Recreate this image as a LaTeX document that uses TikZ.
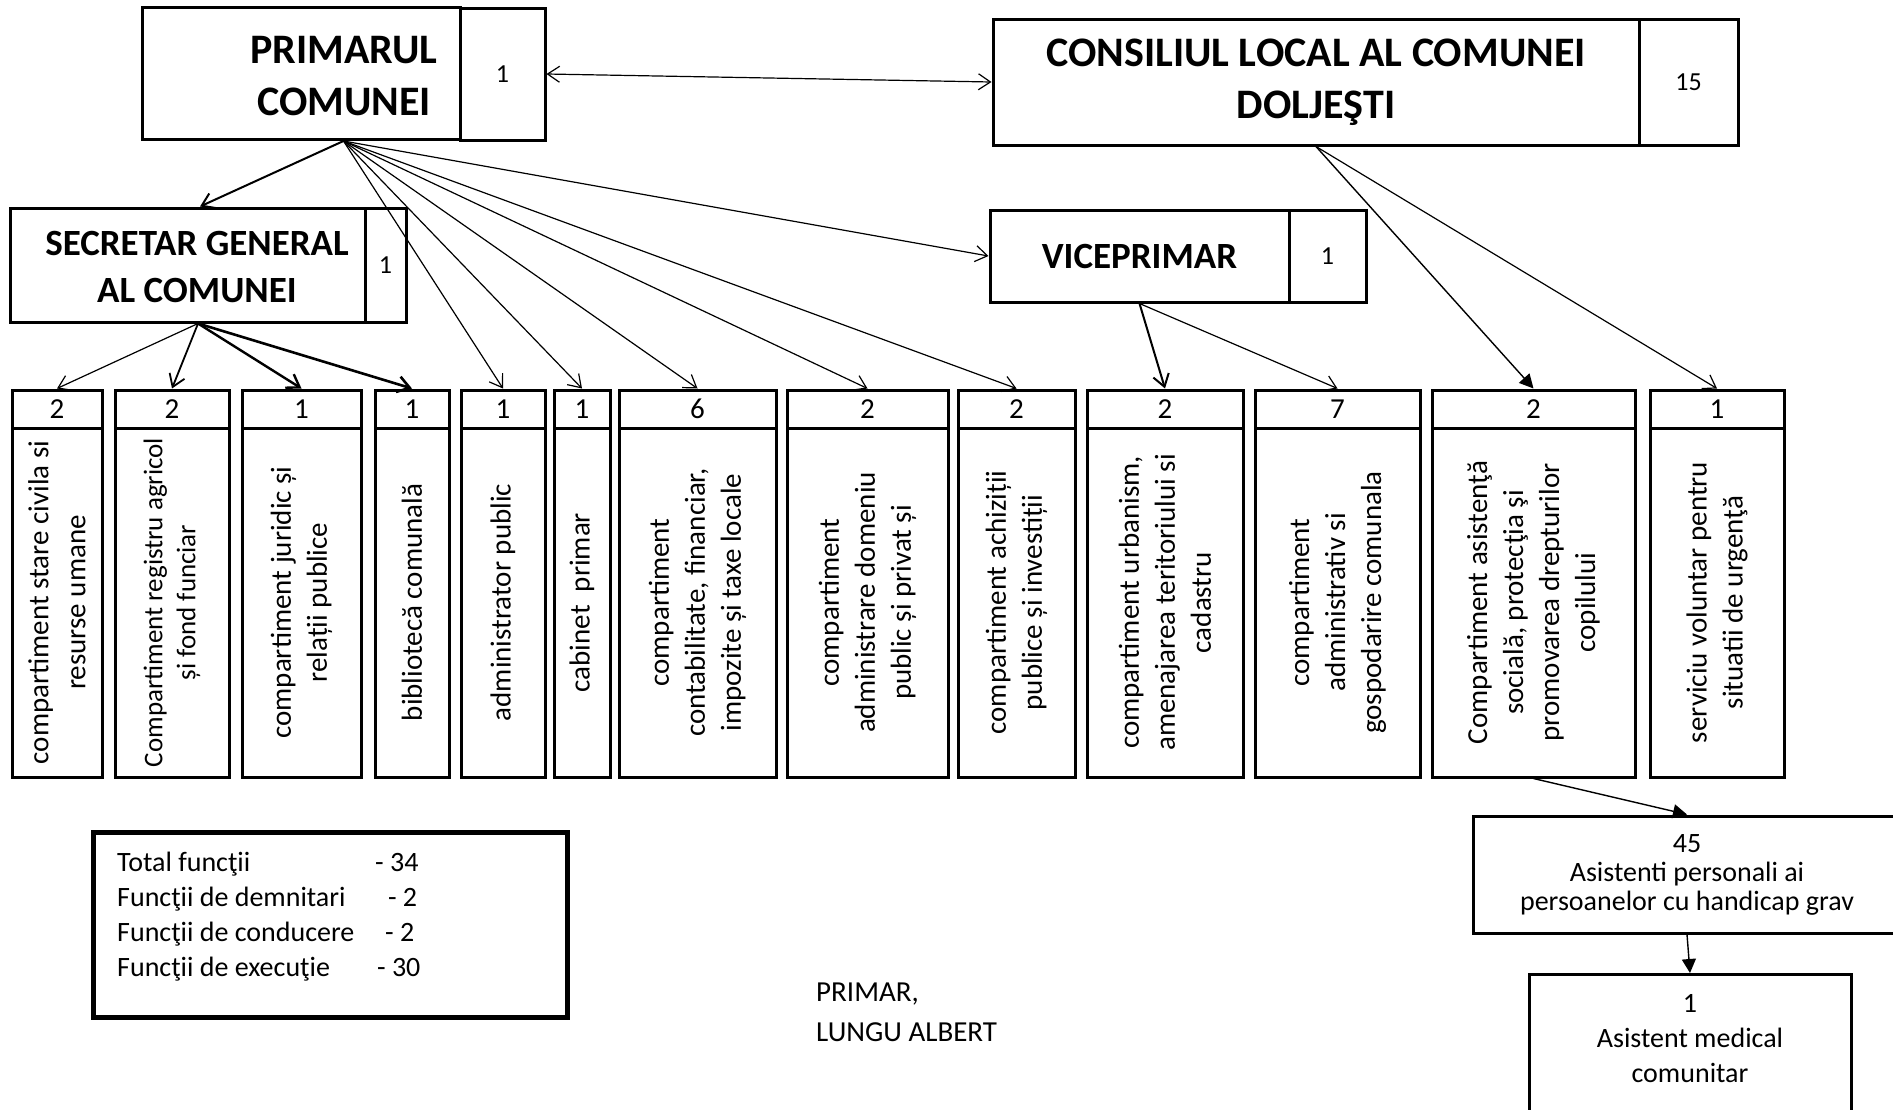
\documentclass[tikz,border=0pt]{standalone}
\usepackage{fontspec}
\setmainfont{Carlito}
\usetikzlibrary{arrows.meta,calc}
\newcommand{\fsz}[2]{\fontsize{#1pt}{#2pt}\selectfont}
\begin{document}
\begin{tikzpicture}[x=1pt,y=-1pt,
  box/.style={draw, line width=3pt, inner sep=0pt, rectangle},
  num/.style={font=\fsz{26}{30}},
  title/.style={font=\bfseries\fsz{42}{52}, align=center, inner sep=0pt},
  titletwo/.style={font=\bfseries\fsz{37}{47}, align=center, inner sep=0pt},
  conn/.style={line width=1.2pt, -{Straight Barb[length=12pt,width=16pt]}},
  fconn/.style={line width=1.4pt, -{Triangle[length=14pt,width=14pt]}}]
\useasboundingbox (0,0) rectangle (1893,1109);
% top boxes
\node[box, minimum width=318pt, minimum height=132pt] (primm) at (301,73) {};
\node[box, num, minimum width=85pt, minimum height=132pt] (primc) at (502.5,74) {1};
\node[title] (primt) at (344,76) {PRIMARUL\\COMUNEI};
\node[box, title, minimum width=646pt, minimum height=126pt] (consm) at (1316,82) {CONSILIUL LOCAL AL COMUNEI\\DOLJEŞTI};
\node[box, num, minimum width=99pt, minimum height=126pt] (consc) at (1688.5,82) {15};
\node[box, minimum width=355pt, minimum height=114pt] (secm) at (187.5,265) {};
\node[box, num, minimum width=41pt, minimum height=114pt] (secc) at (385.5,265) {1};
\node[titletwo] (sect) at (197,266.5) {SECRETAR GENERAL\\AL COMUNEI};
\node[box, titletwo, minimum width=299pt, minimum height=92pt] (vpm) at (1139.5,256) {VICEPRIMAR};
\node[box, num, minimum width=77pt, minimum height=92pt] (vpc) at (1327.5,256) {1};
% bottom row
\foreach \k/\xl/\xr/\nn/\fs/\bs/\txt in {
 1/12/102/2/29/37/{compartiment stare civila si\\resurse umane},
 2/115/229/2/27/33/{Compartiment registru agricol\\și fond funciar},
 3/242/361/1/29/36/{compartiment juridic și\\relații publice},
 4/375/449/1/29/36/{bibliotecă comunală},
 5/461/545/1/29/36/{administrator public},
 6/554/610/1/29/36/{cabinet\ \ primar},
 7/619/776/6/29/36/{compartiment\\contabilitate, financiar,\\impozite și taxe locale},
 8/787/948/2/29/36/{compartiment\\administrare domeniu\\public și privat și},
 9/958/1075/2/29/36/{compartiment achiziții\\publice și investiții},
 10/1087/1243/2/29/36/{compartiment urbanism,\\amenajarea teritoriului si\\cadastru},
 11/1255/1420/7/29/36/{compartiment\\administrativ si\\gospodarire comunala},
 12/1432/1635/2/29/36/{Compartiment asistenţă\\socială, protecţia şi\\promovarea drepturilor\\copilului},
 13/1650/1784/1/29/36/{serviciu voluntar pentru\\situatii de urgenţă}}
{
  \pgfmathsetmacro{\ww}{\xr-\xl}
  \pgfmathsetmacro{\cx}{(\xr+\xl)/2}
  \node[box, minimum width=\ww pt, minimum height=38pt, font=\fsz{29}{34}] (n\k) at (\cx,409) {\nn};
  \node[box, minimum width=\ww pt, minimum height=349pt] (t\k) at (\cx,602.5) {};
  \node[rotate=90, align=center, inner sep=0pt, font=\fsz{\fs}{\bs}] (l\k) at (t\k.center) {\txt};
}
% lower right boxes
\node[box, align=center, font=\fsz{28}{29}, minimum width=428pt, minimum height=117pt] (b45) at (1687,874.5) {45\\Asistenti personali ai\\persoanelor cu handicap grav};
\node[box, minimum width=322pt, minimum height=170pt, anchor=north] (am) at (1690,973) {};
\node[anchor=north, align=center, inner sep=0pt, font=\fsz{28}{35}] (amt) at ($(am.north)+(0,21)$) {1\\Asistent medical\\comunitar};
% totals
\node[box, line width=5pt, minimum width=474pt, minimum height=185pt] (tot) at (330,924.5) {};
\node[anchor=west, align=left, inner sep=0pt, font=\fsz{28}{35}] (tott) at (117,917) {\makebox[258pt][l]{Total funcţii}- 34\\\makebox[271pt][l]{Funcţii de demnitari}- 2\\\makebox[268pt][l]{Funcţii de conducere}- 2\\\makebox[260pt][l]{Funcţii de execuţie}- 30};
\node[anchor=west, align=left, inner sep=0pt, font=\fsz{29}{40}] (sig) at (816,1012) {PRIMAR,\\LUNGU ALBERT};
% connectors
\coordinate (pb) at ($(primm.south west)!0.5!(primc.south east)$);
\coordinate (sb) at ($(secm.south west)!0.475!(secc.south east)$);
\coordinate (st) at ($(secm.north west)!0.48!(secc.north east)$);
\draw[conn, line width=2pt] (pb) -- (st);
\foreach \k in {5,...,9} {\draw[conn] (pb) -- (n\k.north);}
\draw[conn] (pb) -- (vpm.west);
\draw[line width=1.2pt, {Straight Barb[length=12pt,width=16pt]}-{Straight Barb[length=12pt,width=16pt]}] (primc.east) -- (consm.west);
\draw[conn] (sb) -- (n1.north);
\draw[conn, line width=1.8pt] (sb) -- (n2.north);
\draw[conn, line width=2.4pt] (sb) -- (n3.north);
\draw[conn, line width=2.6pt] (sb) -- (n4.north);
\draw[conn, line width=2pt] (vpm.south) -- (n10.north);
\draw[conn] (vpm.south) -- (n11.north);
\draw[fconn] (consm.south) -- (n12.north);
\draw[conn] (consm.south) -- (n13.north);
\draw[fconn] (t12.south) -- (b45.north);
\draw[fconn] (b45.south) -- (am.north);
\end{tikzpicture}
\end{document}
